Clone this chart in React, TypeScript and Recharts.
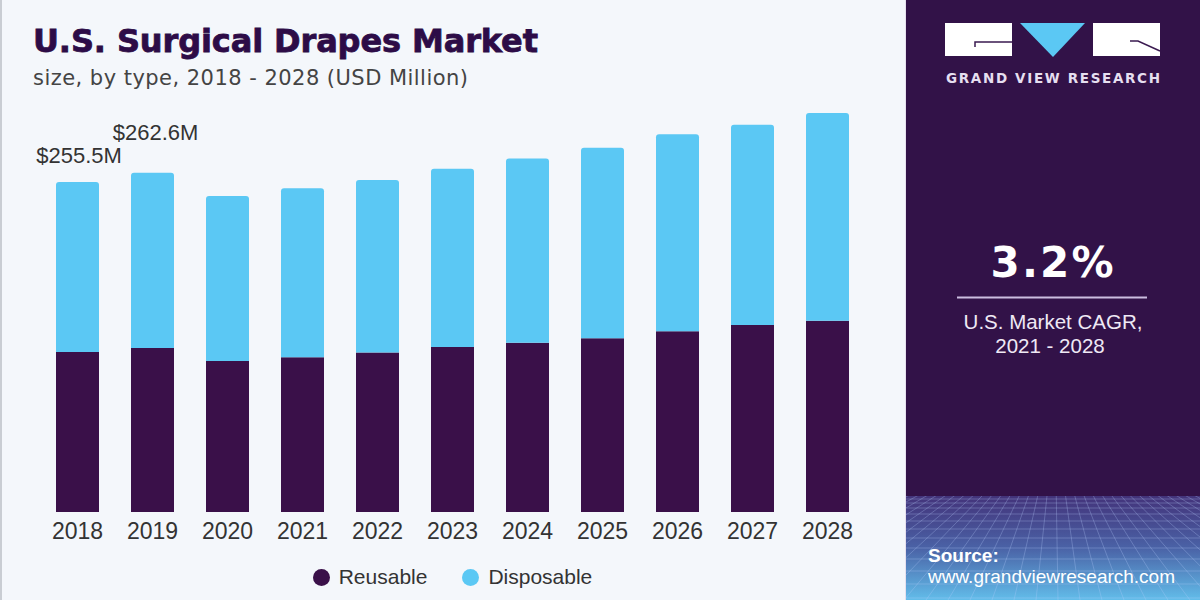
import { BarChart, Bar, XAxis, YAxis, Legend, LabelList } from 'recharts'

const years = ['2018', '2019', '2020', '2021', '2022', '2023', '2024', '2025', '2026', '2027', '2028']
const reusable = [123.9, 127.0, 116.9, 119.8, 123.6, 127.7, 131.1, 134.5, 139.9, 144.8, 148.1]
const disposable = [131.6, 135.6, 127.7, 130.8, 133.4, 138.1, 142.7, 147.5, 152.7, 155.0, 160.8]
const totalLabels = ['$255.5M', '$262.6M']
const seriesNames = ['Reusable', 'Disposable']

const REUSABLE = '#3a1049'
const DISPOSABLE = '#5bc8f4'
const PANEL = '#321248'
const SANS = '"Liberation Sans", Arial, sans-serif'
const WIDE = '"DejaVu Sans", Verdana, sans-serif'

const data = years.map((year, i) => ({ year, Reusable: reusable[i], Disposable: disposable[i] }))

// the two value labels don't sit at the same height above their bars
const labelShift = [{ dx: 1.5, dy: -19 }, { dx: 3, dy: -33 }]

function TotalLabel(props: any) {
  const { x, y, width, index } = props
  if (index >= totalLabels.length) return null
  const s = labelShift[index]
  return (
    <text x={Number(x) + Number(width) / 2 + s.dx} y={Number(y) + s.dy} textAnchor="middle"
      fontSize={22} fontFamily={SANS} fill="#333">
      {totalLabels[index]}
    </text>
  )
}

function LegendContent({ payload }: any) {
  const items = [...(payload || [])].sort((a: any, b: any) => seriesNames.indexOf(a.value) - seriesNames.indexOf(b.value))
  return (
    <div style={{ display: 'flex', justifyContent: 'center', gap: 35, fontFamily: SANS, fontSize: 21, color: '#333', lineHeight: '24px' }}>
      {items.map((p: any) => (
        <div key={p.value} style={{ display: 'flex', alignItems: 'center' }}>
          <span style={{ width: 17, height: 17, borderRadius: '50%', background: p.color, marginRight: 9, display: 'inline-block' }} />
          {p.value}
        </div>
      ))}
    </div>
  )
}

function SidePanel() {
  const hLines = [499, 503, 508, 514, 521, 529, 538, 548, 559, 571, 584, 598]
  const vLines = Array.from({ length: 40 }, (_, i) => 640 + i * 22)
  return (
    <svg width={1200} height={600} style={{ position: 'absolute', left: 0, top: 0 }}>
      <defs>
        <linearGradient id="floor" x1="0" y1="0" x2="0" y2="1">
          <stop offset="0%" stopColor="#43337a" />
          <stop offset="50%" stopColor="#4a62a6" />
          <stop offset="100%" stopColor="#62bdea" />
        </linearGradient>
        <clipPath id="floorClip">
          <rect x={906} y={496} width={294} height={104} />
        </clipPath>
      </defs>
      <rect x={0} y={0} width={906} height={600} fill="#f4f7fb" />
      <rect x={0} y={0} width={2} height={600} fill="#c9cdd3" />
      <rect x={905} y={0} width={1} height={600} fill="#e6e0ee" />
      <rect x={906} y={0} width={294} height={600} fill={PANEL} />
      <rect x={906} y={496} width={294} height={104} fill="url(#floor)" />
      <g clipPath="url(#floorClip)" stroke="#b9d2ff" strokeOpacity={0.28} strokeWidth={1}>
        {hLines.map((y) => <line key={'h' + y} x1={906} y1={y} x2={1200} y2={y} />)}
        {vLines.map((x) => <line key={'v' + x} x1={1055} y1={420} x2={x} y2={600} />)}
      </g>

      {/* logo */}
      <rect x={945} y={23} width={67} height={33} fill="#fff" />
      <polyline points="975,47 975,42 1012,42" fill="none" stroke="#3a1a50" strokeWidth={1.5} />
      <polygon points="1020,23 1085,23 1053,57" fill={DISPOSABLE} />
      <rect x={1093} y={23} width={67} height={33} fill="#fff" />
      <polyline points="1130,41 1138,41 1160,51" fill="none" stroke="#3a1a50" strokeWidth={1.5} />
      <text x={946} y={83} fontFamily={WIDE} fontWeight="bold" fontSize={13.5} fill="#e6dff0"
        textLength={214} lengthAdjust="spacing">GRAND VIEW RESEARCH</text>

      <text x={1052} y={277} textAnchor="middle" fontFamily={WIDE} fontWeight="bold" fontSize={42} fill="#fff"
        textLength={123} lengthAdjust="spacing">3.2%</text>
      <line x1={957} y1={297.5} x2={1147} y2={297.5} stroke="#cbbde0" strokeWidth={2} />
      <text x={1053} y={329} textAnchor="middle" fontFamily={SANS} fontSize={20.5} fill="#efe9f5">U.S. Market CAGR,</text>
      <text x={1050} y={353} textAnchor="middle" fontFamily={SANS} fontSize={20.5} fill="#efe9f5">2021 - 2028</text>

      <text x={928} y={562} fontFamily={SANS} fontWeight="bold" fontSize={19} fill="#fff">Source:</text>
      <text x={928} y={583} fontFamily={SANS} fontSize={19} fill="#fff" textLength={247} lengthAdjust="spacing">
        www.grandviewresearch.com
      </text>

      {/* headings */}
      <text x={33} y={52} fontFamily={WIDE} fontWeight="bold" fontSize={32} fill="#2d0c47" stroke="#2d0c47" strokeWidth={0.8}
        textLength={505} lengthAdjust="spacing">U.S. Surgical Drapes Market</text>
      <text x={33} y={85} fontFamily={WIDE} fontSize={21} fill="#444"
        textLength={435} lengthAdjust="spacing">size, by type, 2018 - 2028 (USD Million)</text>
    </svg>
  )
}

export default function App() {
  return (
    <div style={{ position: 'absolute', left: 0, top: 0, width: 1200, height: 600, overflow: 'hidden' }}>
      <SidePanel />
      <div style={{ position: 'absolute', left: 0, top: 0 }}>
        <BarChart width={905} height={600} data={data} margin={{ top: 60, right: 40, bottom: 58, left: 40 }} barSize={43}>
          <XAxis dataKey="year" axisLine={false} tickLine={false} height={30} tickMargin={5} interval={0}
            tick={{ fill: '#333', fontSize: 23, fontFamily: SANS }} />
          <YAxis hide domain={[0, 350]} />
          <Legend verticalAlign="middle" align="center" layout="horizontal" content={<LegendContent />}
            wrapperStyle={{ top: 565, left: 0, width: 905 }} />
          <Bar dataKey="Reusable" name="Reusable" stackId="a" fill={REUSABLE} isAnimationActive={false} />
          <Bar dataKey="Disposable" name="Disposable" stackId="a" fill={DISPOSABLE} radius={[3, 3, 0, 0]} isAnimationActive={false}>
            <LabelList dataKey="Disposable" content={<TotalLabel />} />
          </Bar>
        </BarChart>
      </div>
    </div>
  )
}
